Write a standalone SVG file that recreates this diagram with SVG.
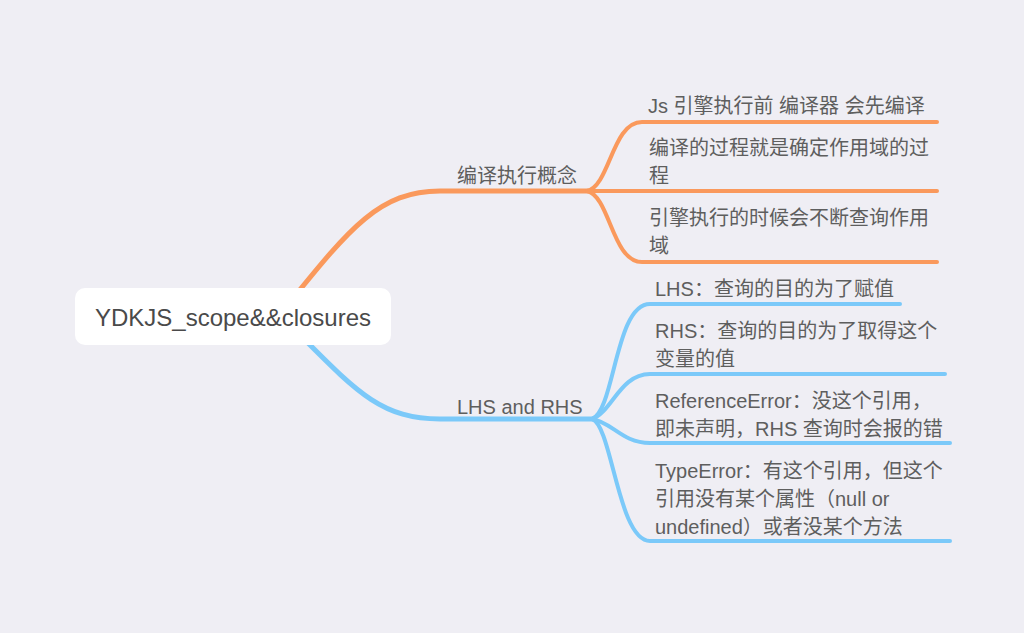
<svg xmlns="http://www.w3.org/2000/svg" width="1024" height="633" viewBox="0 0 1024 633">
<style>
.t{font-family:"Liberation Sans","Noto Sans CJK SC",sans-serif;font-size:20px;fill:#5e5e5e}
.root{font-family:"Liberation Sans","Noto Sans CJK SC",sans-serif;font-size:24px;fill:#4a4a4a}
.o{fill:none;stroke:#fa995c;stroke-linecap:round}
.b{fill:none;stroke:#7bc9f9;stroke-linecap:round}
.m{stroke-width:5}
.c{stroke-width:4}
</style>
<rect width="1024" height="633" fill="#efeef4"/>
<g id="connectors">
<path class="o m" d="M 290 302 C 350 228, 380 191, 440 191 H 588"/>
<path class="b m" d="M 295 330 C 355 390, 380 419, 440 419 H 592"/>
<path class="o c" d="M 587 191 C 610 186, 612 122, 642 122 H 937"/>
<path class="o c" d="M 587 191 H 937"/>
<path class="o c" d="M 587 191 C 610 196, 612 262, 642 262 H 937"/>
<path class="b c" d="M 592 419 C 615 410, 615 304, 650 304 H 900"/>
<path class="b c" d="M 592 419 C 612 412, 620 374, 650 374 H 945"/>
<path class="b c" d="M 592 419 C 612 422, 622 443, 650 443 H 950"/>
<path class="b c" d="M 592 419 C 612 425, 618 541, 650 541 H 950"/>
</g>
<g id="root">
<rect x="75" y="288" width="316" height="57" rx="10" fill="#ffffff"/>
<text class="root" x="233" y="326" text-anchor="middle">YDKJS_scope&amp;&amp;closures</text>
</g>
<g id="branch1"><text class="t" x="457" y="183">编译执行概念</text></g>
<g id="branch2"><text class="t" x="457" y="414">LHS and RHS</text></g>
<g id="o1"><text class="t" x="648" y="113">Js 引擎执行前 编译器 会先编译</text></g>
<g id="o2"><text class="t" x="649" y="155">编译的过程就是确定作用域的过</text><text class="t" x="649" y="183">程</text></g>
<g id="o3"><text class="t" x="649" y="225">引擎执行的时候会不断查询作用</text><text class="t" x="649" y="253">域</text></g>
<g id="b1"><text class="t" x="655" y="296">LHS：查询的目的为了赋值</text></g>
<g id="b2"><text class="t" x="655" y="338">RHS：查询的目的为了取得这个</text><text class="t" x="655" y="366">变量的值</text></g>
<g id="b3"><text class="t" x="655" y="408">ReferenceError：没这个引用，</text><text class="t" x="655" y="436">即未声明，RHS 查询时会报的错</text></g>
<g id="b4"><text class="t" x="655" y="478">TypeError：有这个引用，但这个</text><text class="t" x="655" y="506">引用没有某个属性（null or</text><text class="t" x="655" y="534">undefined）或者没某个方法</text></g>
</svg>
